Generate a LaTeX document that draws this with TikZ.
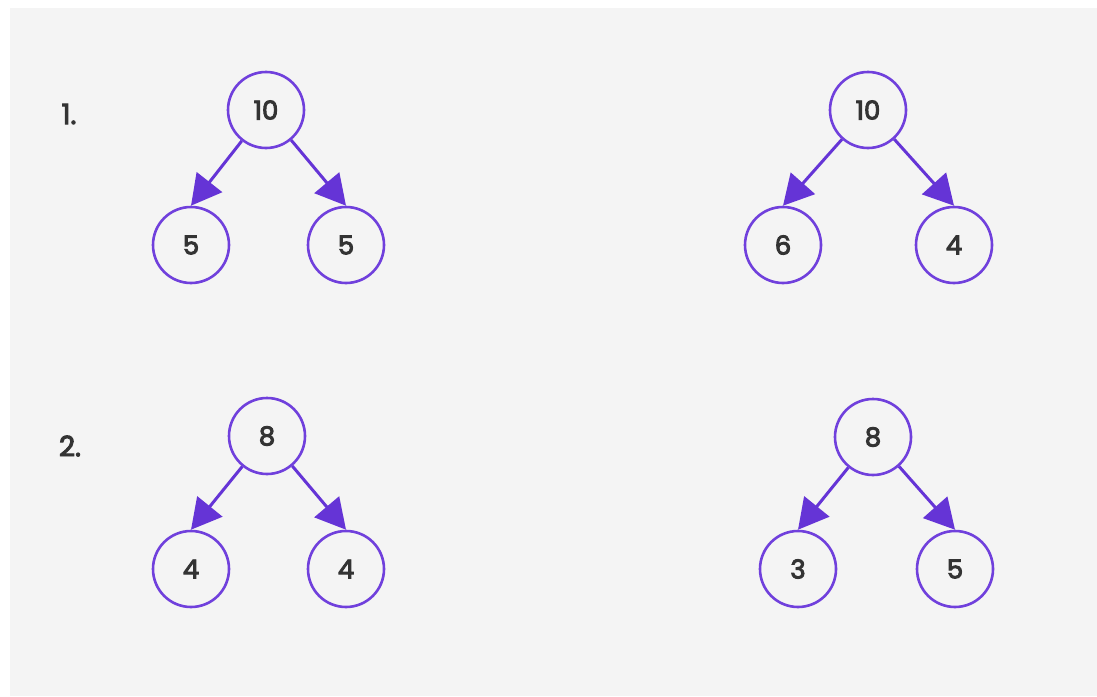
\documentclass[tikz,border=0pt]{standalone}
\usepackage{fontspec}
\setmainfont{Poppins}[FakeBold=3.5]
\usetikzlibrary{arrows.meta}
\definecolor{bg}{HTML}{F4F4F4}
\definecolor{pur}{HTML}{7040DC}
\definecolor{arr}{HTML}{6534D6}
\definecolor{txt}{HTML}{333333}
\tikzset{
  tnode/.style={circle,draw=pur,line width=2.6pt,minimum size=76pt,inner sep=0pt,text=txt,font=\fontsize{26}{30}\selectfont},
  lbl/.style={text=txt,font=\fontsize{28}{32}\selectfont,inner sep=0pt},
  edge/.style={draw=arr,line width=3pt,-{Triangle[length=30pt,width=32pt]}}
}
\begin{document}
\begin{tikzpicture}[x=1pt,y=-1pt]
\fill[white] (0,0) rectangle (1097,696);
\fill[bg] (10,8) rectangle (1097,696);
\useasboundingbox (0,0) rectangle (1097,696);
\node[lbl] (l1) at (69,114) {1.};
\node[lbl] (l2) at (70,446) {2.};
% tree 1 left
\node[tnode] (a) at (266,110) {10};
\node[tnode] (a1) at (191,245) {5};
\node[tnode] (a2) at (346,245) {5};
% tree 1 right
\node[tnode] (b) at (868,110) {10};
\node[tnode] (b1) at (783,245) {6};
\node[tnode] (b2) at (954,245) {4};
% tree 2 left
\node[tnode] (c) at (267,436) {8};
\node[tnode] (c1) at (191,569) {4};
\node[tnode] (c2) at (346,569) {4};
% tree 2 right
\node[tnode] (d) at (873,437) {8};
\node[tnode] (d1) at (798,569) {3};
\node[tnode] (d2) at (955,569) {5};
\foreach \r/\k in {a/a1,a/a2,b/b1,b/b2,c/c1,c/c2,d/d1,d/d2}
  \draw[edge] (\r) -- (\k.north);
\end{tikzpicture}
\end{document}
